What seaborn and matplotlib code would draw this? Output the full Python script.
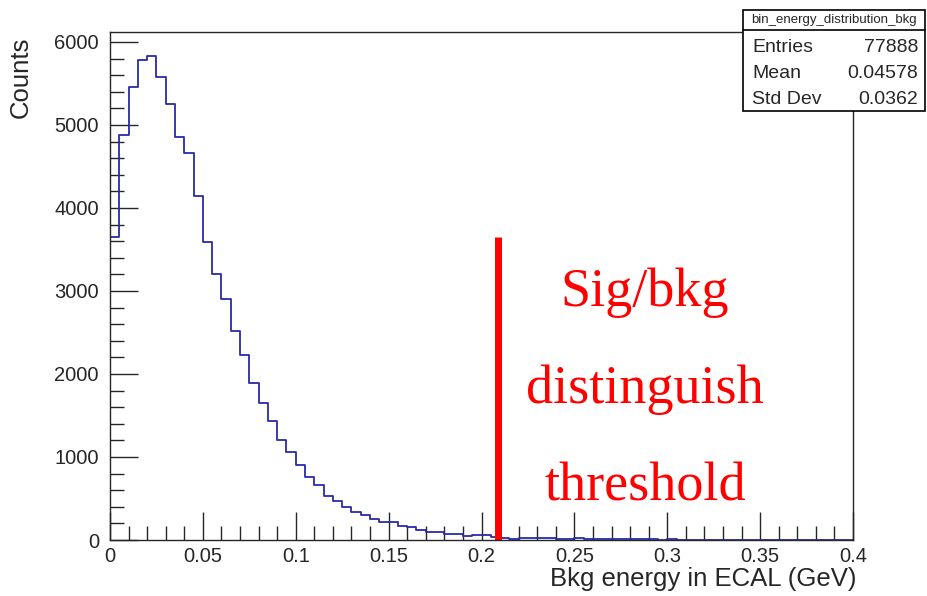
import numpy as np
import pandas as pd
import matplotlib
matplotlib.use("Agg")
import matplotlib.pyplot as plt
import seaborn as sns
from matplotlib.patches import Rectangle
from matplotlib.ticker import MultipleLocator

# histogram contents, 0.005 GeV bins starting at 0
bin_width = 0.005
counts = [3650, 4880, 5460, 5780, 5835, 5575, 5255, 4850, 4660, 4150,
          3590, 3200, 2900, 2520, 2225, 1890, 1645, 1435, 1200, 1065,
          905, 760, 665, 525, 475, 395, 340, 305, 250, 218,
          215, 172, 157, 124, 100, 100, 72, 72, 44, 56,
          55, 36, 30, 12, 25, 20, 22, 20, 18, 16,
          20, 15, 14, 12, 14, 10, 12, 8, 10, 6, 8]
threshold = 0.209
threshold_top = 3650
stats_title = "bin_energy_distribution_bkg"
stats_rows = [("Entries", "77888"), ("Mean", "0.04578"), ("Std Dev", "0.0362")]
note_lines = ["Sig/bkg", "distinguish", "threshold"]

df = pd.DataFrame({"energy": np.arange(len(counts)) * bin_width + bin_width / 2,
                   "counts": counts})

sns.set_style("ticks")
plt.rcParams['font.family'] = ['Liberation Sans', 'DejaVu Sans']

fig = plt.figure(figsize=(9.28, 5.96), dpi=100)
ax = fig.add_axes([110 / 928, 56 / 596, 743 / 928, 508 / 596])

sns.histplot(data=df, x="energy", weights="counts", binwidth=bin_width, binrange=(0, 0.4),
             element="step", fill=False, color="#2a2aa8", linewidth=1.3, ax=ax)

ax.plot([threshold, threshold], [0, threshold_top], color="#ff0000", lw=5, solid_capstyle="butt")

ax.set_xlim(0, 0.4)
ax.set_ylim(0, 6120)
ax.xaxis.set_major_locator(MultipleLocator(0.05))
ax.xaxis.set_minor_locator(MultipleLocator(0.01))
ax.yaxis.set_major_locator(MultipleLocator(1000))
ax.yaxis.set_minor_locator(MultipleLocator(200))
ax.tick_params(which="major", direction="in", length=20, width=1, labelsize=14.5, pad=5)
ax.tick_params(axis="y", which="major", pad=8)
ax.tick_params(which="minor", direction="in", length=10, width=1)
xt = np.round(np.arange(0, 0.401, 0.05), 2)
ax.set_xticks(xt)
ax.set_xticklabels([f"{v:g}" for v in xt])
ax.set_xlabel("")
ax.set_ylabel("")
for s in ax.spines.values():
    s.set_linewidth(1)
    s.set_visible(True)

fig.text(857 / 928, 1 - 579 / 596, "Bkg energy in ECAL (GeV)", ha="right", va="center", fontsize=18.5)
fig.text(21 / 928, 1 - 37 / 596, "Counts", rotation=90, ha="center", va="top", fontsize=18.5)

for i, line in enumerate(note_lines):
    fig.text(645 / 928, 1 - (293 + 97 * i) / 596, line, color="#ff0000", ha="center", va="center",
             fontsize=39, family="Liberation Serif")

# ROOT style stats box
bx0, bx1, by0, by1 = 743, 925, 10, 111
fig.patches.append(Rectangle((bx0 / 928, 1 - by1 / 596), (bx1 - bx0) / 928, (by1 - by0) / 596,
                             transform=fig.transFigure, fill=True, facecolor="white",
                             edgecolor="black", lw=1.2, zorder=5))
fig.lines.append(plt.Line2D([bx0 / 928, bx1 / 928], [1 - 30 / 596, 1 - 30 / 596],
                            transform=fig.transFigure, color="black", lw=1.2, zorder=6))
fig.text((bx0 + bx1) / 2 / 928, 1 - 20 / 596, stats_title, ha="center", va="center", fontsize=9.5, zorder=7)
for i, (k, v) in enumerate(stats_rows):
    y = 1 - (48 + 25.5 * i) / 596
    fig.text(752 / 928, y, k, ha="left", va="center", fontsize=14, zorder=7)
    fig.text(918 / 928, y, v, ha="right", va="center", fontsize=14, zorder=7)

fig.savefig("out.png", dpi=100)
